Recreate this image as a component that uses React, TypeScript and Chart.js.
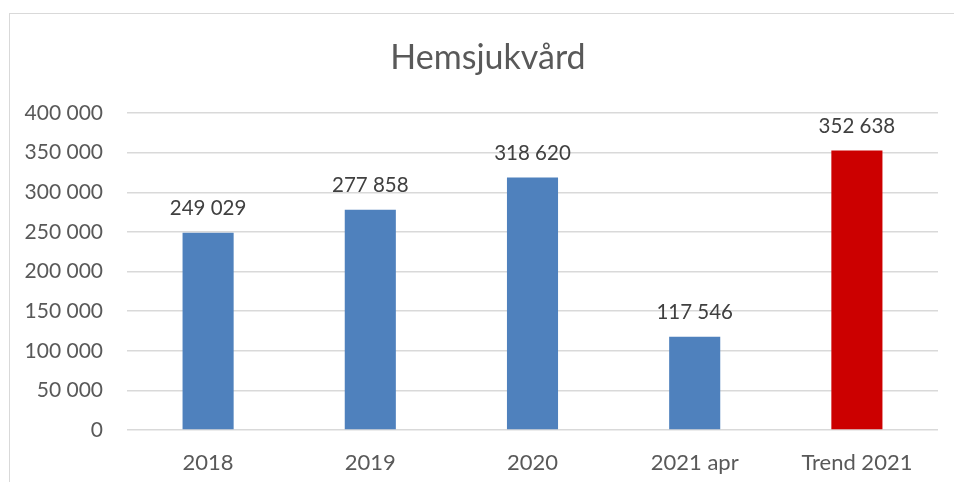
import React, { useEffect, useRef } from "react";
import { Chart, registerables } from "chart.js";

Chart.register(...registerables);

const categories = ["2018", "2019", "2020", "2021 apr", "Trend 2021"];
const values = [249029, 277858, 318620, 117546, 352638];
const barColors = ["#4F81BD", "#4F81BD", "#4F81BD", "#4F81BD", "#CC0000"];
const yTicks = [0, 50000, 100000, 150000, 200000, 250000, 300000, 350000, 400000];
const title = "Hemsjukvård";

const fmt = (v: number) => {
  const s = Math.round(v).toString();
  return s.replace(/\B(?=(\d{3})+(?!\d))/g, " ");
};

const FONT = "Lato, 'Open Sans', sans-serif";
const TEXT = "#595959";

const labelPlugin = {
  id: "valueLabels",
  afterDatasetsDraw(chart: any) {
    const ctx = chart.ctx;
    const meta = chart.getDatasetMeta(0);
    ctx.save();
    ctx.font = `20.5px ${FONT}`;
    ctx.fillStyle = "#404040";
    ctx.textAlign = "center";
    ctx.textBaseline = "middle";
    meta.data.forEach((bar: any, i: number) => {
      ctx.fillText(fmt(values[i]), bar.x, bar.y - 24);
    });
    ctx.font = `34px ${FONT}`;
    ctx.fillStyle = TEXT;
    ctx.fillText(title, 488, 58);
    ctx.restore();
  },
};

export default function App() {
  const ref = useRef<HTMLCanvasElement | null>(null);
  useEffect(() => {
    if (!ref.current) return;
    const chart = new Chart(ref.current, {
      type: "bar",
      data: {
        labels: categories,
        datasets: [
          {
            data: values,
            backgroundColor: barColors,
            categoryPercentage: 1,
            barPercentage: 0.315,
          },
        ],
      },
      options: {
        animation: false,
        responsive: false,
        maintainAspectRatio: false,
        layout: { padding: { top: 113, right: 16, bottom: 8, left: 0 } },
        plugins: {
          legend: { display: false },
          tooltip: { enabled: false },
          title: { display: false },
        },
        scales: {
          x: {
            afterFit: (scale: any) => {
              scale.height = 44;
            },
            grid: { display: false, drawTicks: false },
            border: { display: false },
            ticks: {
              color: TEXT,
              font: { family: FONT, size: 22 },
              padding: 20,
              maxRotation: 0,
            },
          },
          y: {
            min: 0,
            max: 400000,
            afterFit: (scale: any) => {
              scale.width = 127;
            },
            afterBuildTicks: (scale: any) => {
              scale.ticks = yTicks.map((v) => ({ value: v }));
            },
            grid: { color: "#D9D9D9", lineWidth: 1.5, drawTicks: false },
            border: { display: false },
            ticks: {
              color: TEXT,
              font: { family: FONT, size: 21 },
              padding: 24,
              callback: (v: any) => fmt(Number(v)),
            },
          },
        },
      },
      plugins: [labelPlugin],
    });
    return () => chart.destroy();
  }, []);

  return (
    <div
      style={{
        position: "fixed",
        left: 0,
        top: 0,
        width: 954,
        height: 482,
        background: "#fff",
      }}
    >
      <div
        style={{
          position: "absolute",
          left: 9,
          top: 13,
          right: 0,
          bottom: 0,
          borderLeft: "1.5px solid #D9D9D9",
          borderTop: "1.5px solid #D9D9D9",
        }}
      />
      <canvas
        ref={ref}
        width={954}
        height={482}
        style={{ position: "absolute", left: 0, top: 0 }}
      />
    </div>
  );
}
